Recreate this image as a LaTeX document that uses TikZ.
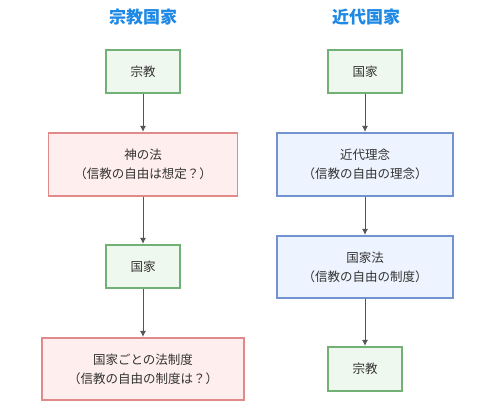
\documentclass[tikz,border=0pt]{standalone}
\usepackage{fontspec}
\setmainfont{Noto Sans CJK JP}
\usetikzlibrary{arrows.meta}
\definecolor{gfill}{HTML}{EEF8EE}
\definecolor{gline}{HTML}{72B076}
\definecolor{rfill}{HTML}{FFEEEE}
\definecolor{rline}{HTML}{E08A8A}
\definecolor{bfill}{HTML}{EEF4FF}
\definecolor{bline}{HTML}{7393D0}
\definecolor{ttl}{HTML}{1E88E5}
\definecolor{txt}{HTML}{333333}
\definecolor{arr}{HTML}{555555}
\tikzset{
  box/.style={draw, line width=1.2pt, align=center, inner sep=0pt, text=txt,
    font=\fontsize{12.5}{19}\selectfont},
  gbox/.style={box, fill=gfill, draw=gline, minimum width=74pt, minimum height=43pt},
  rbox/.style={box, fill=rfill, draw=rline},
  bbox/.style={box, fill=bfill, draw=bline},
  ttlnode/.style={text=ttl, font=\fontsize{17}{20}\selectfont\bfseries},
  conn/.style={draw=arr, line width=0.9pt, -{Latex[length=6pt,width=6pt]}, shorten >=0.5pt}
}
\begin{document}
\begin{tikzpicture}[x=1pt,y=-1pt]
\useasboundingbox (0,0) rectangle (500,412);
\node[ttlnode] (t1) at (143,17) {宗教国家};
\node[ttlnode] (t2) at (366,17) {近代国家};
% left
\node[gbox] (a1) at (143,71.5) {宗教};
\node[rbox, minimum width=189pt, minimum height=63pt] (a2) at (143,164.5) {神の法\\（信教の自由は想定？）};
\node[gbox] (a3) at (143,266.5) {国家};
\node[rbox, minimum width=202pt, minimum height=62pt] (a4) at (143,369) {国家ごとの法制度\\（信教の自由の制度は？）};
% right
\node[gbox] (b1) at (365,71.5) {国家};
\node[bbox, minimum width=176pt, minimum height=63pt] (b2) at (365,164.5) {近代理念\\（信教の自由の理念）};
\node[bbox, minimum width=176pt, minimum height=62pt] (b3) at (365,267) {国家法\\（信教の自由の制度）};
\node[gbox, minimum height=44pt] (b4) at (365,369) {宗教};
\draw[conn] (a1) -- (a2);
\draw[conn] (a2) -- (a3);
\draw[conn] (a3) -- (a4);
\draw[conn] (b1) -- (b2);
\draw[conn] (b2) -- (b3);
\draw[conn] (b3) -- (b4);
\end{tikzpicture}
\end{document}
